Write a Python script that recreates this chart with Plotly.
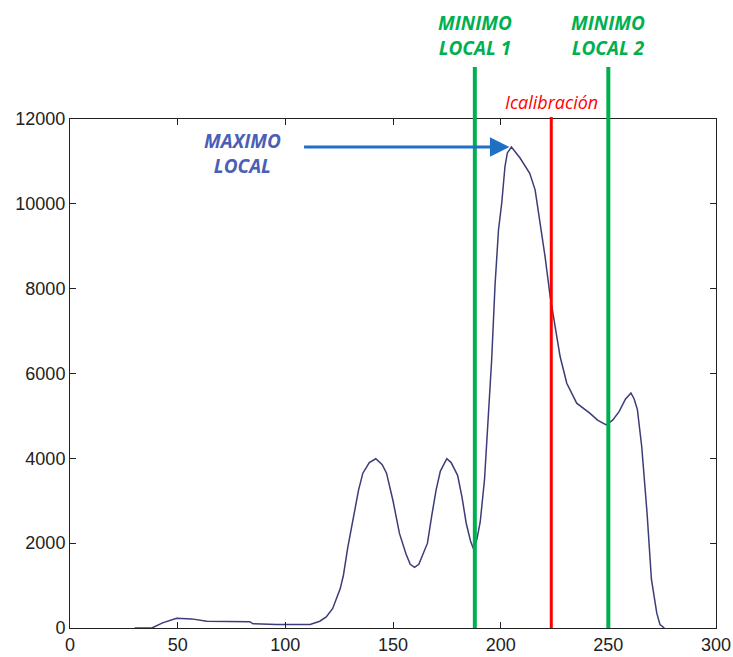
import plotly.graph_objects as go

# Histogram-like curve
curve_x = [30, 38, 43, 49.5, 56.5, 63.5, 83.5, 85, 96, 100.5, 111.5, 116, 119, 122, 125.5, 127, 129,
           132, 134, 136, 139, 142, 145, 147, 150, 153, 156, 158, 160, 162, 164, 166, 168, 170, 172,
           175, 177, 180, 182, 184, 186, 187.5, 189, 190.5, 192.5, 194.3, 195.8, 197.4, 199, 200.5, 202,
           203.1, 205, 209, 213.5, 216, 218.3, 220.6, 223, 224.5, 227.6, 230.7, 235.3, 241.5, 245, 249,
           252, 255, 258, 260.5, 262, 263.5, 265.5, 268, 270, 272.5, 274, 276]
curve_y = [0, 0, 120, 230, 215, 160, 150, 100, 85, 80, 85, 160, 260, 460, 930, 1250, 1900,
           2700, 3250, 3650, 3900, 3990, 3850, 3650, 3000, 2230, 1750, 1500, 1430, 1500, 1750, 2000, 2650, 3250, 3700,
           3990, 3900, 3600, 3100, 2470, 2050, 1850, 2100, 2500, 3500, 4900, 6300, 8100, 9390, 10020, 10880,
           11200, 11340, 11080, 10720, 10330, 9550, 8760, 7810, 7340, 6400, 5770, 5300, 5060, 4900, 4790,
           4900, 5100, 5400, 5540, 5400, 5150, 4280, 2700, 1150, 350, 80, 0]

x_ticks = [0, 50, 100, 150, 200, 250, 300]
y_ticks = [0, 2000, 4000, 6000, 8000, 10000, 12000]
y_tick_labels = ["0", "2000", "4000", "6000", "8000", "10000", "12000"]

min_local_x = [188, 250]
min_local_labels = ["MINIMO<br>LOCAL 1", "MINIMO<br>LOCAL 2"]
calib_x = 223.5
calib_label = "Icalibración"
max_local = (205, 11340)
max_label = "MAXIMO<br>LOCAL"
max_label_pos = (80, 11190)
arrow_start_x = 108

GREEN = "#00b050"
RED = "#ff0000"
BLUE_TXT = "#4a5fb5"
ARROW = "#1f6fc5"
TXT_FONT = "Open Sans, Lato, sans-serif"

fig = go.Figure()
fig.add_trace(go.Scatter(x=curve_x, y=curve_y, mode="lines",
                         line=dict(color="#3c3c78", width=1.5), showlegend=False, hoverinfo="skip"))

shapes = []
annotations = []
for xv, lab in zip(min_local_x, min_local_labels):
    shapes.append(dict(type="line", xref="x", yref="paper", x0=xv, x1=xv, y0=0, y1=1.102,
                       line=dict(color=GREEN, width=4), layer="above"))
    annotations.append(dict(x=xv, xref="x", y=1.11, yref="paper", yanchor="bottom",
                            text="<b><i>" + lab + "</i></b>", showarrow=False,
                            font=dict(family=TXT_FONT, size=19, color=GREEN),
                            align="center"))
shapes.append(dict(type="line", xref="x", yref="paper", x0=calib_x, x1=calib_x, y0=0, y1=1.004,
                   line=dict(color=RED, width=3), layer="above"))
annotations.append(dict(x=calib_x, xref="x", y=1.006, yref="paper", yanchor="bottom",
                        text="<i>" + calib_label + "</i>", showarrow=False,
                        font=dict(family=TXT_FONT, size=18, color=RED)))
# arrow to local maximum
annotations.append(dict(x=max_local[0], y=max_local[1], xref="x", yref="y",
                        ax=arrow_start_x, ay=max_local[1], axref="x", ayref="y",
                        text="", showarrow=True, arrowhead=2, arrowsize=1.3, arrowwidth=3,
                        arrowcolor=ARROW, standoff=2))
annotations.append(dict(x=max_label_pos[0], y=max_label_pos[1], xref="x", yref="y",
                        xanchor="center", yanchor="middle",
                        text="<b><i>" + max_label + "</i></b>", showarrow=False,
                        font=dict(family=TXT_FONT, size=19, color=BLUE_TXT),
                        align="center"))

axis_font = dict(family="Liberation Sans, Arial", size=18, color="#222222")
fig.update_layout(
    width=733, height=657,
    margin=dict(l=70, r=17, t=119, b=29, autoexpand=False),
    paper_bgcolor="white", plot_bgcolor="white",
    shapes=shapes, annotations=annotations,
    xaxis=dict(range=[0, 300], tickvals=x_ticks, ticks="inside", ticklen=6, tickcolor="#222",
               showline=True, linecolor="#222", linewidth=1, mirror="ticks", showgrid=False,
               zeroline=False, tickfont=axis_font, fixedrange=True, automargin=False),
    yaxis=dict(range=[0, 12000], tickvals=y_ticks, ticktext=y_tick_labels, ticks="inside",
               ticklen=6, tickcolor="#222",
               showline=True, linecolor="#222", linewidth=1, mirror="ticks", showgrid=False,
               zeroline=False, tickfont=axis_font, fixedrange=True, automargin=False),
)

fig.write_html("out.html", config={"displayModeBar": False})

# remove the default page margin so the figure fills the window exactly
with open("out.html", "r", encoding="utf-8") as f:
    html = f.read()
html = html.replace("<body>", '<body style="margin:0;overflow:hidden">', 1)
with open("out.html", "w", encoding="utf-8") as f:
    f.write(html)
